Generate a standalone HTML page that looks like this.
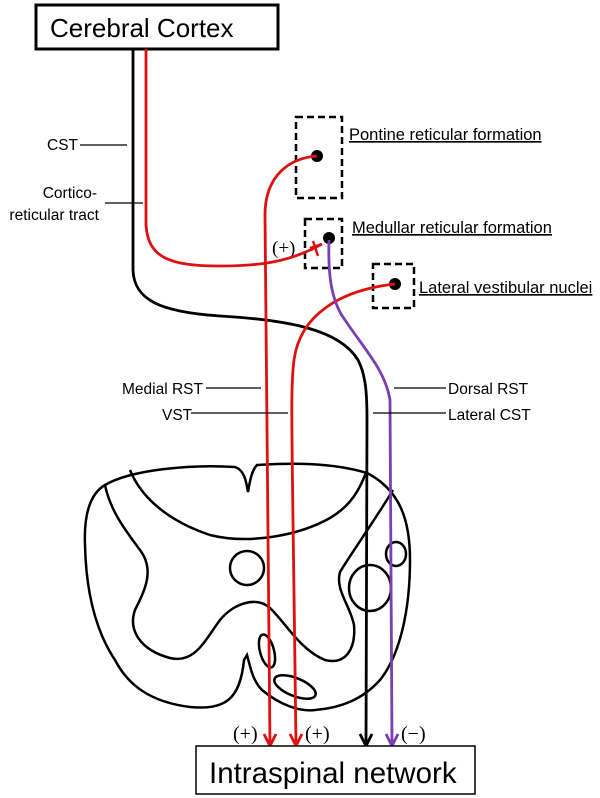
<!DOCTYPE html>
<html><head><meta charset="utf-8"><style>
html,body{margin:0;padding:0;background:#fff;}
svg{display:block;font-family:"Liberation Sans",sans-serif;}
</style></head><body>
<svg width="600" height="798" viewBox="0 0 600 798" xmlns="http://www.w3.org/2000/svg">
<!-- Cortex box -->
<rect x="36" y="5" width="242" height="44" fill="#fff" stroke="#000" stroke-width="3"/>
<text x="50" y="37" font-size="26">Cerebral Cortex</text>

<!-- dashed boxes -->
<g fill="none" stroke="#000" stroke-width="2.5" stroke-dasharray="7,4">
<rect x="296" y="117" width="46" height="81"/>
<rect x="305" y="219" width="37" height="49"/>
<rect x="373" y="264" width="41" height="44"/>
</g>
<g font-size="16.5">
<text x="349" y="140" text-decoration="underline">Pontine reticular formation</text>
<text x="352" y="233" text-decoration="underline">Medullar reticular formation</text>
<text x="419" y="293" text-decoration="underline">Lateral vestibular nuclei</text>
</g>
<circle cx="317" cy="156" r="6" fill="#000"/>
<circle cx="329" cy="238" r="6" fill="#000"/>
<circle cx="395" cy="284" r="6" fill="#000"/>
<text x="272" y="254" font-size="19" font-family="Liberation Serif,serif">(+)</text>

<!-- spinal cord -->
<g fill="none" stroke="#000" stroke-width="2.5">
<path d="M248,492 C246,480 244,470 235,467 C190,464 130,470 105,485 C88,495 84,520 85,545 C86,590 95,630 115,660 C128,685 150,702 190,707 C225,710 240,700 244,660 L247,655 C250,665 252,680 262,690 C280,705 300,712 315,710 C340,708 362,700 380,680 C400,655 410,610 410,560 C410,520 400,490 367,473 C330,462 290,463 257,465 C252,470 250,480 248,492 Z"/>
<path d="M105,485 C110,510 125,530 140,550 C155,570 145,590 135,610 C128,630 140,650 170,658 C195,664 205,640 220,620 C232,605 255,595 270,608 C285,622 300,650 325,660 C345,665 356,650 354,625 C350,605 335,590 340,572 C350,555 375,520 393,490"/>
<path d="M130,470 C140,495 165,520 210,535 C250,545 300,535 330,518 C352,505 360,488 366,473"/>
<circle cx="247" cy="568" r="17"/>
<ellipse cx="396" cy="554" rx="10" ry="12"/>
<ellipse cx="370" cy="588" rx="21" ry="23"/>
<ellipse cx="267" cy="651" rx="7" ry="17" transform="rotate(-15 267 651)"/>
<ellipse cx="295" cy="687" rx="22" ry="9" transform="rotate(22 295 687)"/>
</g>

<!-- tracts -->
<path d="M133,49 L133,270 C134,300 160,312 220,316 C290,320 340,330 358,360 C366,375 367,395 367,420 L366,746" fill="none" stroke="#000" stroke-width="2.8"/>
<path d="M360,734 L366,746 L372,734" fill="none" stroke="#000" stroke-width="2.8"/>
<path d="M146,49 L146,225 C148,258 170,266 220,266 C260,266 290,262 322,244" fill="none" stroke="#e01010" stroke-width="2.8"/>
<path d="M313,241 L318,256 M310,248 L322,244" fill="none" stroke="#e01010" stroke-width="2.5"/>
<path d="M317,156 C290,158 265,175 265,215 L270,746" fill="none" stroke="#e01010" stroke-width="2.8"/>
<path d="M264,734 L270,746 L276,734" fill="none" stroke="#e01010" stroke-width="2.8"/>
<path d="M395,284 C340,290 300,315 294,360 C290,390 292,420 296,746" fill="none" stroke="#e01010" stroke-width="2.8"/>
<path d="M290,734 L296,746 L302,734" fill="none" stroke="#e01010" stroke-width="2.8"/>
<path d="M329,240 C328,270 330,300 345,320 C365,350 385,370 390,400 L392,746" fill="none" stroke="#7a3fb0" stroke-width="2.8"/>
<path d="M386,734 L392,746 L398,734" fill="none" stroke="#7a3fb0" stroke-width="2.8"/>

<!-- labels -->
<g font-size="15.5">
<text x="47" y="150">CST</text>
<line x1="80" y1="145" x2="127" y2="145" stroke="#000" stroke-width="1.2"/>
<text x="97" y="198" text-anchor="end">Cortico-</text>
<text x="99" y="220" text-anchor="end">reticular tract</text>
<line x1="105" y1="203" x2="143" y2="203" stroke="#000" stroke-width="1.2"/>
<text x="122" y="394">Medial RST</text>
<line x1="206" y1="388" x2="261" y2="388" stroke="#000" stroke-width="1.2"/>
<text x="162" y="420">VST</text>
<line x1="191" y1="413" x2="288" y2="413" stroke="#000" stroke-width="1.2"/>
<text x="448" y="394">Dorsal RST</text>
<line x1="394" y1="388" x2="446" y2="388" stroke="#000" stroke-width="1.2"/>
<text x="448" y="420">Lateral CST</text>
<line x1="373" y1="413" x2="446" y2="413" stroke="#000" stroke-width="1.2"/>
</g>
<g font-size="20" font-family="Liberation Serif,serif">
<text x="233" y="740">(+)</text>
<text x="305" y="740">(+)</text>
<text x="401" y="740">(−)</text>
</g>

<rect x="196" y="746" width="279" height="48" fill="#fff" stroke="#000" stroke-width="1.5"/>
<text x="209" y="783" font-size="29.5">Intraspinal network</text>
</svg>
</body></html>
